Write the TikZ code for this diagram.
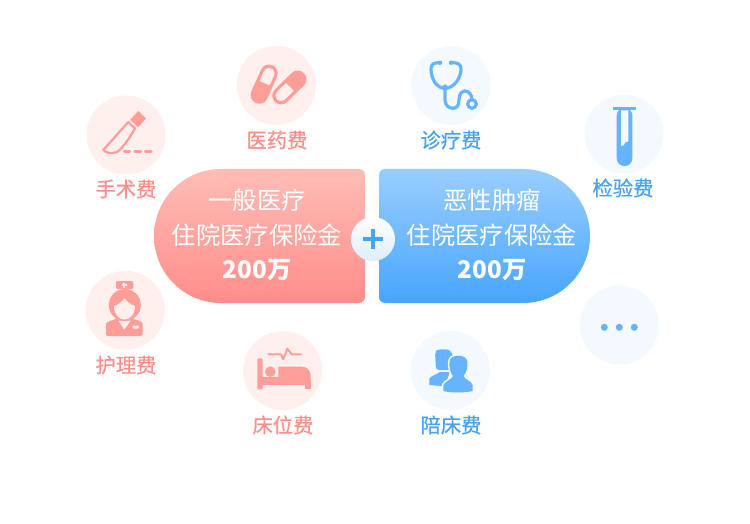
\documentclass[tikz,border=0pt]{standalone}
\usepackage{fontspec}
\newfontfamily\cjk{Noto Sans CJK SC}
\newfontfamily\cjkm[FakeBold=0.6]{Noto Sans CJK SC}
\definecolor{pbg}{HTML}{FFF0EE}
\definecolor{bbg}{HTML}{F3F9FF}
\definecolor{pic}{HTML}{FF9D98}
\definecolor{bic}{HTML}{66B4FF}
\definecolor{ptx}{HTML}{FF8F8A}
\definecolor{btx}{HTML}{46A3F5}
\definecolor{ptop}{HTML}{FFBDB6}
\definecolor{pbot}{HTML}{FF8D8A}
\definecolor{btop}{HTML}{99CEFF}
\definecolor{bbot}{HTML}{47A5FD}
\definecolor{plusbot}{HTML}{DCEEFF}
\tikzset{
 pcirc/.style={circle,fill=pbg,minimum size=79pt,inner sep=0pt},
 bcirc/.style={circle,fill=bbg,minimum size=79pt,inner sep=0pt},
 plabel/.style={text=ptx,font=\cjkm\fontsize{20.3pt}{20pt}\selectfont,inner sep=0pt,anchor=center},
 blabel/.style={text=btx,font=\cjkm\fontsize{20.3pt}{20pt}\selectfont,inner sep=0pt,anchor=center},
 captext/.style={text=white,font=\cjk\fontsize{24.3pt}{24pt}\selectfont,inner sep=0pt,anchor=center},
 capnum/.style={text=white,font=\cjk\bfseries\fontsize{24.3pt}{24pt}\selectfont,inner sep=0pt,anchor=center},
 pline/.style={draw=pic,line width=2.2pt,line join=round,line cap=round},
 bline/.style={draw=bic,line width=3.2pt,line join=round,line cap=round},
}
\begin{document}
\begin{tikzpicture}[x=1pt,y=-1pt]
\useasboundingbox (0,0) rectangle (750,524);
\fill[white] (0,0) rectangle (750,524);
% capsules
\shade[top color=ptop,bottom color=pbot,rounded corners=6pt] (290,169) -- (365,169) -- (365,303) -- (290,303) [rounded corners=67pt] -- (154,303) -- (154,169) -- cycle;
\shade[top color=btop,bottom color=bbot,rounded corners=6pt] (460,303) -- (379,303) -- (379,169) -- (460,169) [rounded corners=67pt] -- (590,169) -- (590,303) -- cycle;
\shade[top color=white,bottom color=plusbot] (373,239) circle[radius=22pt];
\fill[btx] (371,229) rectangle (375,249);
\fill[btx] (363,237) rectangle (383,241);
\node[captext] (l1) at (257,200) {一般医疗};
\node[captext] (l2) at (257,235) {住院医疗保险金};
\node[capnum] (l3) at (257,270) {200万};
\node[captext] (r1) at (492,200) {恶性肿瘤};
\node[captext] (r2) at (492,235) {住院医疗保险金};
\node[capnum] (r3) at (492,270) {200万};
% circles
\node[pcirc] (c1) at (126,135) {};
\node[pcirc] (c2) at (276.3,85.3) {};
\node[bcirc] (c3) at (451,85.3) {};
\node[bcirc] (c4) at (624,134) {};
\node[bcirc] (c5) at (619.3,325) {};
\node[bcirc] (c6) at (450.3,370.3) {};
\node[pcirc] (c7) at (282.7,370.7) {};
\node[pcirc] (c8) at (125.3,310.3) {};
% labels
\node[plabel] (t1) at (126,189) {手术费};
\node[plabel] (t2) at (277,140) {医药费};
\node[blabel] (t3) at (451,140) {诊疗费};
\node[blabel] (t4) at (623,188) {检验费};
\node[blabel] (t6) at (451,425) {陪床费};
\node[plabel] (t7) at (283,425) {床位费};
\node[plabel] (t8) at (126,365) {护理费};
% pills
\draw[pic,line width=17.5pt,line cap=round] (269,73.3) -- (259.3,95);
\fill[pbg] (269,73.3) circle[radius=5.5pt];
\draw[pbg,line width=11pt] (269,73.3) -- (264.6,83.2);
\draw[pic,line width=17.5pt,line cap=round] (297.7,79.3) -- (281,95.7);
\fill[pbg] (281,95.7) circle[radius=5.5pt];
\draw[pbg,line width=11pt] (281,95.7) -- (289.8,87);
% scalpel
\fill[pic] (138.3,111) -- (146,118.3) -- (138.3,127.3) -- (130,120) -- cycle;
\draw[pline] (128.3,122) -- (103.3,150) .. controls (106,153) and (112,154) .. (117,152) .. controls (124,147) and (130,137) .. (135,128.5) -- cycle;
\draw[pic,line width=3.5pt,line cap=round] (124.5,151.7) -- (129.5,151.7);
\draw[pic,line width=3.5pt,line cap=round] (135,151.7) -- (140.5,151.7);
\draw[pic,line width=3.5pt,line cap=round] (145.5,151.7) -- (151,151.7);
% stethoscope
\draw[bline] (440,62.7) .. controls (434,62.5) and (431,64) .. (431,69) .. controls (431,78) and (436,88.3) .. (445,88.3) .. controls (454,88.3) and (461,78) .. (461,69) .. controls (461,64) and (458,62.5) .. (451,62.7);
\draw[bline] (445,88.3) -- (445,100) .. controls (445,105.5) and (449,108.3) .. (453,108.3) .. controls (457,108.3) and (459,105) .. (459,100) .. controls (459,94) and (462,91) .. (465,91) .. controls (469,91) and (472,95) .. (472,100);
\fill[bic] (440,62.7) circle[radius=2.2pt] (451,62.7) circle[radius=2.2pt] (445,87.5) circle[radius=3pt];
\draw[bline] (472,104) circle[radius=4.3pt];
% test tube
\fill[bic] (613.3,107) rectangle (635.7,110.3);
\fill[bic,rounded corners=7.5pt] (616.7,108) -- (632.3,108) -- (632.3,166) -- (616.7,166) -- cycle;
\fill[bbg] (621,110.3) -- (628.3,110.3) -- (628.3,141.5) -- (625,142.5) -- (624,145) -- (621,146) -- cycle;
\fill[bic] (616.7,107) rectangle (632.3,110.3);
% dots
\fill[bic] (604.3,327.3) circle[radius=3.5pt] (619.3,327.3) circle[radius=3.5pt] (634.3,327.3) circle[radius=3.5pt];
% people
\fill[bic,rounded corners=3pt] (435,352) -- (438,349.3) -- (449,349.3) -- (453,354) -- (452,370) -- (436,370) -- cycle;
\fill[bic] (429.3,385) -- (429.3,378.5) .. controls (431,376) and (436,375) .. (440,372) -- (450,372) -- (445,385) -- (441,386) -- cycle;
\newcommand{\frontperson}{(449.5,362) .. controls (449.5,358) and (453,355.7) .. (458.3,355.7) .. controls (463.5,355.7) and (467,358) .. (467.5,362) .. controls (468,368) and (466,373) .. (463.5,376) .. controls (465,380) and (471,380.5) .. (472.7,385) -- (472.7,391) .. controls (465,393) and (451,393) .. (443.3,391) -- (443.3,385) .. controls (445,381) and (451.5,380) .. (453,376) .. controls (450.5,373) and (449,368) .. (449.5,362) -- cycle}
\filldraw[bbg,line width=3pt,line join=round] \frontperson;
\fill[bic] \frontperson;
% nurse
\fill[pic,rounded corners=2pt] (116,281) rectangle (133.3,289);
\fill[pbg] (123.3,282.5) rectangle (125.3,287.5);
\fill[pbg] (121.8,284) rectangle (126.8,286);
\fill[pic] (124.8,305) circle[radius=16pt];
\fill[pic,rounded corners=3pt] (115,313) rectangle (134,320.5);
\fill[pbg] (114,306) .. controls (118,305) and (122,302) .. (124.5,298) .. controls (127,302) and (131,305) .. (135,306) .. controls (135,314) and (130.5,319.5) .. (124.5,319.5) .. controls (118.5,319.5) and (114,314) .. (114,306) -- cycle;
\fill[pic,rounded corners=1.5pt] (106,336) -- (106,325.5) .. controls (106,322) and (112,320.5) .. (116.7,318.5) -- (124.3,330) -- (132.3,318.5) .. controls (137,320) and (142.7,321.5) .. (142.7,325.5) -- (142.7,336) -- cycle;
\fill[pbg,rounded corners=1pt] (132.3,325.5) rectangle (139,328.7);
% bed
\fill[pic,rounded corners=1pt] (257.3,358.3) rectangle (262.7,389.3);
\fill[pic] (262,377) rectangle (280,385);
\fill[pic] (278.3,366.7) -- (301.7,366.7) .. controls (307,366.7) and (310.7,370.5) .. (310.7,376) -- (310.7,385) -- (278.3,385) -- cycle;
\fill[pic] (305.3,380) rectangle (310.7,389.3);
\fill[pic] (270.3,371.7) circle[radius=5.3pt];
\draw[pic,line width=2pt,line join=round,line cap=round] (268.3,354.3) -- (281,354.3) -- (283.3,359.3) -- (287.3,348.7) -- (291.7,354.3) -- (301,354.3);
\end{tikzpicture}
\end{document}
